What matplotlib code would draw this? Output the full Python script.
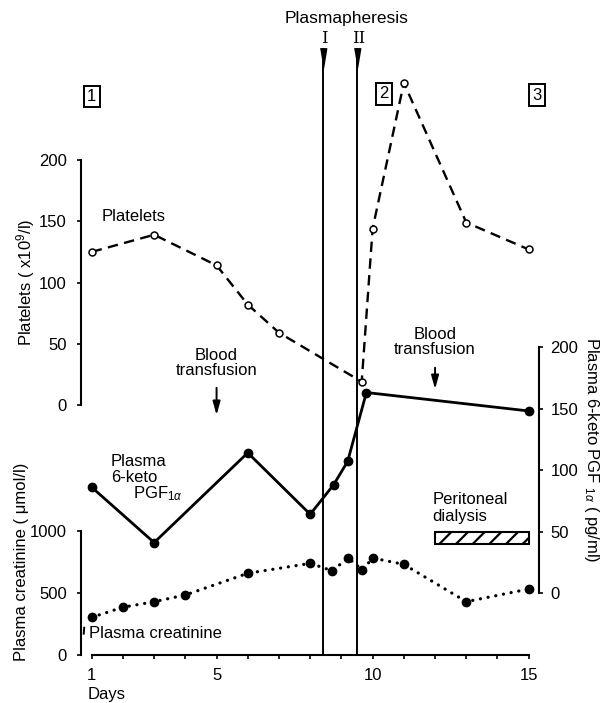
import matplotlib
matplotlib.use("Agg")
import matplotlib.pyplot as plt
from matplotlib.patches import Rectangle

plt.rcParams['font.family'] = ['Liberation Sans', 'DejaVu Sans']
plt.rcParams['mathtext.fontset'] = 'custom'
plt.rcParams['mathtext.rm'] = 'Liberation Sans'
plt.rcParams['mathtext.it'] = 'Liberation Sans:italic'
plt.rcParams['mathtext.bf'] = 'Liberation Sans:bold'
plt.rcParams['hatch.linewidth'] = 1.6

# ---------------- data ----------------
platelet_days = [1, 3, 5, 6, 7, 9.65, 10, 11, 13, 15]
platelet_vals = [125, 139, 114, 82, 59, 19, 144, 263, 149, 127]

pgf_days = [1, 3, 6, 8, 8.75, 9.2, 9.8, 15]
pgf_vals = [86, 41, 114, 64, 88, 107, 163, 148]

creat_days = [1, 2, 3, 4, 6, 8, 8.7, 9.22, 9.67, 10, 11, 13, 15]
creat_vals = [304, 385, 430, 484, 659, 739, 680, 782, 685, 782, 731, 430, 532]

plasmapheresis_days = [8.4, 9.5]
plasmapheresis_labels = ['I', 'II']
transfusion_days = [5, 12]
dialysis_days = [12, 15]
dialysis_pgf = [40, 50]

x_ticks = list(range(1, 16))
x_labels = [str(d) if d in (1, 5, 10, 15) else '' for d in x_ticks]
platelet_ticks = [0, 50, 100, 150, 200]
pgf_ticks = [0, 50, 100, 150, 200]
creat_ticks = [0, 500, 1000]
phase_labels = ['1', '2', '3']
phase_days = [1.0, 10.37, 15.27]

# ---------------- figure ----------------
W, H = 608, 703
fig = plt.figure(figsize=(W / 100, H / 100), dpi=100)
fig.patch.set_facecolor('white')

left_px, right_px, bot_px, top_px = 81, 539, 655, 40
pos = [left_px / W, 1 - bot_px / H, (right_px - left_px) / W, (bot_px - top_px) / H]
xlim = (0.657, 15.33)

ax_c = fig.add_axes(pos)              # creatinine
ax_p = fig.add_axes(pos, sharex=ax_c)  # platelets
ax_g = fig.add_axes(pos, sharex=ax_c)  # PGF
for a in (ax_p, ax_g):
    a.patch.set_visible(False)

ax_c.set_xlim(*xlim)
ax_c.set_ylim(0, 4960)
ax_p.set_ylim(-204.1, 298.0)
ax_g.set_ylim(-50.4, 449.6)

LW_SP = 1.5
TICKLEN = 3.2
FS_TICK = 12
FS_TXT = 12

for a in (ax_c, ax_p, ax_g):
    for s in a.spines.values():
        s.set_visible(False)
        s.set_linewidth(LW_SP)

# creatinine axis (left, lower) + x axis
ax_c.spines['left'].set_visible(True)
ax_c.spines['left'].set_bounds(0, 1000)
ax_c.spines['bottom'].set_visible(True)
ax_c.spines['bottom'].set_bounds(1, 15)
ax_c.set_yticks(creat_ticks)
ax_c.set_yticklabels([str(t) for t in creat_ticks])
ax_c.set_xticks(x_ticks)
ax_c.set_xticklabels(x_labels)
ax_c.tick_params(axis='both', direction='out', length=TICKLEN, width=1.2,
                 labelsize=FS_TICK)
ax_c.tick_params(axis='y', pad=7)
ax_c.tick_params(axis='x', pad=6)

# platelets axis (left, upper)
ax_p.spines['left'].set_visible(True)
ax_p.spines['left'].set_bounds(0, 200)
ax_p.set_yticks(platelet_ticks)
ax_p.set_yticklabels([str(t) for t in platelet_ticks])
ax_p.tick_params(axis='y', direction='out', length=TICKLEN, width=1.2,
                 labelsize=FS_TICK, pad=7)
ax_p.tick_params(axis='x', which='both', bottom=False, labelbottom=False)

# PGF axis (right)
ax_g.spines['right'].set_visible(True)
ax_g.spines['right'].set_bounds(0, 200)
ax_g.yaxis.tick_right()
ax_g.set_yticks(pgf_ticks)
ax_g.set_yticklabels([str(t) for t in pgf_ticks])
ax_g.tick_params(axis='y', direction='out', length=TICKLEN, width=1.2,
                 labelsize=FS_TICK, pad=5)
ax_g.tick_params(axis='x', which='both', bottom=False, labelbottom=False)

# ---------------- series ----------------
ax_p.plot(platelet_days, platelet_vals, color='black', lw=1.7,
          linestyle=(0, (4.4, 2.7)), marker='o', markersize=5,
          markerfacecolor='white', markeredgecolor='black', markeredgewidth=1.1,
          zorder=4)

ax_g.plot(pgf_days, pgf_vals, color='black', lw=2.0, linestyle='-',
          marker='o', markersize=6, markerfacecolor='black',
          markeredgecolor='black', zorder=4)

ax_c.plot(creat_days, creat_vals, color='black', lw=2.3,
          linestyle=(0, (0.05, 2.4)), dash_capstyle='round',
          marker='o', markersize=6, markerfacecolor='black',
          markeredgecolor='black', zorder=4)

# ---------------- plasmapheresis lines ----------------
tri = [(-0.33, 1), (0.33, 1), (0, -1)]
for d, lab in zip(plasmapheresis_days, plasmapheresis_labels):
    ax_p.plot([d, d], [291.0, -204.1], color='black', lw=1.4, zorder=3,
              clip_on=False)
    ax_p.plot([d], [283.5], marker=tri, markersize=14, color='black',
              clip_on=False, zorder=5)
    ax_p.text(d + 0.05, 299.6, lab, ha='center',
              va='center', fontsize=FS_TXT, family='DejaVu Serif')
ax_p.text(9.17, 315.9, 'Plasmapheresis', ha='center', va='center',
          fontsize=12.5)

# ---------------- phase boxes ----------------
for d, lab, yv in zip(phase_days, phase_labels, [252, 254, 253]):
    ax_p.text(d, yv, lab, ha='center', va='center', fontsize=12,
              bbox=dict(boxstyle='square,pad=0.2', facecolor='white',
                        edgecolor='black', lw=1.4), clip_on=False)

# ---------------- annotations ----------------
ax_p.text(1.33, 154, 'Platelets', ha='left', va='center', fontsize=FS_TXT)

# blood transfusion arrows (platelet axis units)
ax_p.text(transfusion_days[0], 34.3, 'Blood\ntransfusion', ha='center',
          va='center', fontsize=FS_TXT, linespacing=1.0)
ax_p.annotate('', xy=(transfusion_days[0], -10.6),
              xytext=(transfusion_days[0], 16.3),
              arrowprops=dict(arrowstyle='-|>,head_width=0.22,head_length=0.8',
                              color='black', lw=1.4))
ax_p.text(transfusion_days[1], 51.8, 'Blood\ntransfusion', ha='center',
          va='center', fontsize=FS_TXT, linespacing=1.0)
ax_p.annotate('', xy=(transfusion_days[1], 10.6),
              xytext=(transfusion_days[1], 32.7),
              arrowprops=dict(arrowstyle='-|>,head_width=0.22,head_length=0.8',
                              color='black', lw=1.4))

# PGF label
ax_g.text(1.62, 106.7, 'Plasma', ha='left', va='center', fontsize=FS_TXT)
ax_g.text(1.62, 94.3, '6-keto', ha='left', va='center', fontsize=FS_TXT)
ax_g.text(2.32, 80.5, r'PGF$_{1\alpha}$', ha='left', va='center',
          fontsize=FS_TXT)

# peritoneal dialysis
ax_g.text(11.92, 76.4, 'Peritoneal', ha='left', va='center', fontsize=FS_TXT)
ax_g.text(11.92, 62.6, 'dialysis', ha='left', va='center', fontsize=FS_TXT)
ax_g.add_patch(Rectangle((dialysis_days[0], dialysis_pgf[0]),
                         dialysis_days[1] - dialysis_days[0],
                         dialysis_pgf[1] - dialysis_pgf[0],
                         facecolor='white', edgecolor='black', lw=1.5,
                         hatch='//', zorder=3))

# creatinine label
ax_c.text(0.92, 177, 'Plasma creatinine', ha='left', va='center',
          fontsize=FS_TXT)
ax_c.plot([0.745, 0.76], [172, 220], color='black', lw=1.4, clip_on=False)

# ---------------- axis titles ----------------
fig.text(26 / W, 1 - 282 / H, r'Platelets ( x10$^{9}$/l)', rotation=90,
         ha='center', va='center', fontsize=FS_TXT)
fig.text(22 / W, 1 - 562 / H, 'Plasma creatinine ( μmol/l)', rotation=90,
         ha='center', va='center', fontsize=FS_TXT)
fig.text(591 / W, 1 - 450 / H, r'Plasma 6-keto PGF $_{1\alpha}$ ( pg/ml)',
         rotation=-90, ha='center', va='center', fontsize=FS_TXT)
fig.text(88 / W, 1 - 695 / H, 'Days', ha='left', va='center',
         fontsize=FS_TXT)

fig.savefig('out.png', dpi=100, facecolor='white')
